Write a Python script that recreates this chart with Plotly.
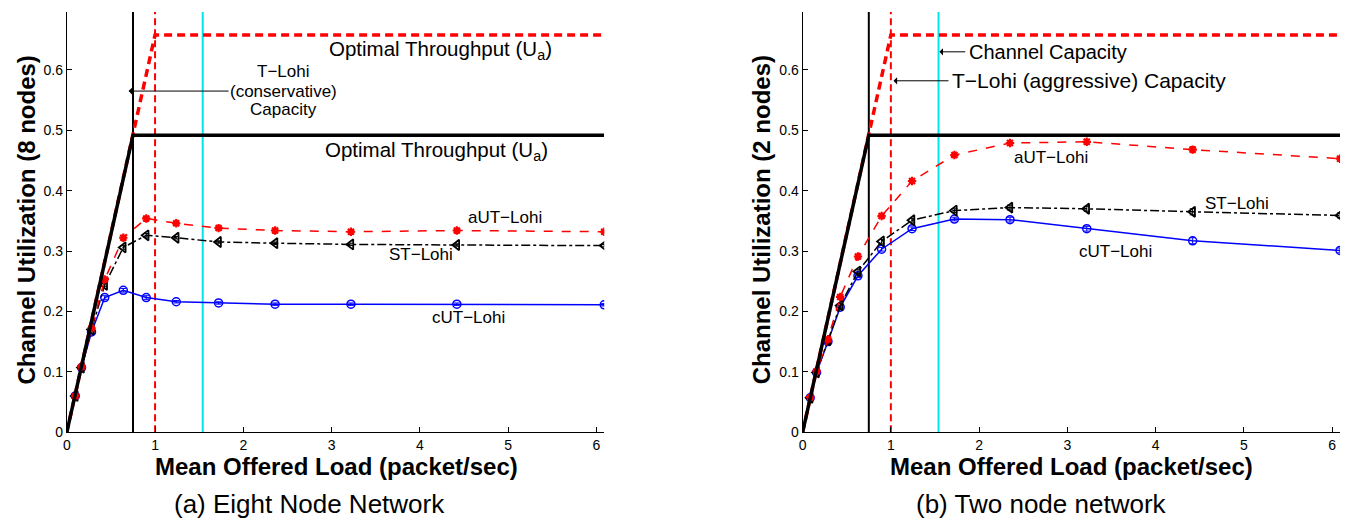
import plotly.graph_objects as go

# ---------------- data ----------------
load_8 = [0.096, 0.167, 0.28, 0.43, 0.64, 0.90, 1.24, 1.72, 2.36, 3.22, 4.42, 6.09]
cut_8 = [0.060, 0.107, 0.166, 0.223, 0.235, 0.223, 0.216, 0.214, 0.212, 0.212, 0.212, 0.211]
aut_8 = [0.060, 0.108, 0.172, 0.253, 0.322, 0.354, 0.346, 0.338, 0.334, 0.332, 0.334, 0.332]
st_8 = [0.060, 0.107, 0.170, 0.244, 0.306, 0.326, 0.322, 0.315, 0.313, 0.311, 0.310, 0.309]
err_8 = [0.002, 0.002, 0.003, 0.003, 0.003, 0.003, 0.002, 0.002, 0.002, 0.002, 0.002, 0.002]

load_2 = [0.086, 0.158, 0.287, 0.426, 0.627, 0.895, 1.24, 1.72, 2.35, 3.22, 4.42, 6.09]
cut_2 = [0.057, 0.099, 0.150, 0.207, 0.259, 0.303, 0.337, 0.353, 0.352, 0.337, 0.317, 0.301]
aut_2 = [0.058, 0.101, 0.154, 0.224, 0.291, 0.358, 0.416, 0.459, 0.479, 0.481, 0.468, 0.453]
st_2 = [0.057, 0.099, 0.152, 0.210, 0.266, 0.316, 0.351, 0.367, 0.372, 0.370, 0.365, 0.359]
err_2 = [0.002, 0.002, 0.003, 0.003, 0.003, 0.003, 0.003, 0.003, 0.004, 0.004, 0.005, 0.004]

# capacity / optimal-throughput envelopes
opt_cons_x = [0, 0.75, 6.09]
opt_cons_y = [0, 0.492, 0.492]
opt_aggr_x = [0, 1.0, 6.09]
opt_aggr_y = [0, 0.658, 0.658]
cap_cons = 0.75      # T-Lohi conservative capacity
cap_aggr = 1.0       # T-Lohi aggressive capacity
cap_channel = 1.54   # channel capacity

x_ticks = [0, 1, 2, 3, 4, 5, 6]
y_ticks = [0, 0.1, 0.2, 0.3, 0.4, 0.5, 0.6]
x_max = 6.09
y_max = 0.696

FONT = "Liberation Sans, Arial, Helvetica, sans-serif"
W, H = 1350, 519
KY = 519 / 512  # vertical correction


def px_y(p):
    """paper fraction from a pixel row measured from the top"""
    return 1 - (p * KY) / H


fig = go.Figure()


def add_panel(xr, yr, load, cut, aut, st, err):
    fig.add_trace(go.Scatter(x=[cap_cons, cap_cons], y=[0, y_max], mode="lines",
                             line=dict(color="black", width=2), xaxis=xr, yaxis=yr, showlegend=False))
    fig.add_trace(go.Scatter(x=[cap_aggr, cap_aggr], y=[0, y_max], mode="lines",
                             line=dict(color="#ff0000", width=2, dash="7px,4px"), xaxis=xr, yaxis=yr, showlegend=False))
    fig.add_trace(go.Scatter(x=[cap_channel, cap_channel], y=[0, y_max], mode="lines",
                             line=dict(color="#00e5ee", width=2), xaxis=xr, yaxis=yr, showlegend=False))
    fig.add_trace(go.Scatter(x=load, y=cut, mode="lines+markers",
                             line=dict(color="#0000ff", width=1.5),
                             marker=dict(symbol="circle-open", size=8, color="#0000ff", line=dict(width=1.5)),
                             error_y=dict(type="data", array=err, color="#0000ff", thickness=1, width=3),
                             xaxis=xr, yaxis=yr, showlegend=False))
    fig.add_trace(go.Scatter(x=load, y=st, mode="lines+markers",
                             line=dict(color="black", width=1.5, dash="dashdot"),
                             marker=dict(symbol="triangle-left-open", size=9, color="black", line=dict(width=1.8)),
                             error_y=dict(type="data", array=err, color="black", thickness=1, width=3),
                             xaxis=xr, yaxis=yr, showlegend=False))
    fig.add_trace(go.Scatter(x=load, y=aut, mode="lines+markers",
                             line=dict(color="#ff0000", width=1.5, dash="dash"),
                             marker=dict(symbol="asterisk-open", size=7, color="#ff0000", line=dict(width=2.2, color="#ff0000")),
                             error_y=dict(type="data", array=err, color="#ff0000", thickness=1, width=3),
                             xaxis=xr, yaxis=yr, showlegend=False))
    fig.add_trace(go.Scatter(x=opt_aggr_x, y=opt_aggr_y, mode="lines",
                             line=dict(color="#ff0000", width=3.5, dash="8px,5px"), xaxis=xr, yaxis=yr, showlegend=False))
    fig.add_trace(go.Scatter(x=opt_cons_x, y=opt_cons_y, mode="lines",
                             line=dict(color="black", width=3.5), xaxis=xr, yaxis=yr, showlegend=False))


add_panel("x", "y", load_8, cut_8, aut_8, st_8, err_8)
add_panel("x2", "y2", load_2, cut_2, aut_2, st_2, err_2)

axis_common = dict(showline=True, linecolor="black", linewidth=1, mirror=False, showgrid=False,
                   zeroline=False, ticks="inside", ticklen=5, tickcolor="black",
                   tickfont=dict(family=FONT, size=14, color="black"))

ydom = [px_y(433), px_y(12)]
fig.update_layout(
    width=W, height=H, margin=dict(l=0, r=0, t=0, b=0),
    paper_bgcolor="white", plot_bgcolor="white", showlegend=False,
    xaxis=dict(domain=[63 / W, 602 / W], range=[0, x_max], tickvals=x_ticks, anchor="y", **axis_common),
    yaxis=dict(domain=ydom, range=[0, y_max], tickvals=y_ticks, anchor="x", **axis_common),
    xaxis2=dict(domain=[801 / W, 1340 / W], range=[0, x_max], tickvals=x_ticks, anchor="y2", **axis_common),
    yaxis2=dict(domain=ydom, range=[0, y_max], tickvals=y_ticks, anchor="x2", **axis_common),
)

ann = []


def F(size, bold=False):
    d = dict(family=FONT, size=size, color="black")
    if bold:
        d["weight"] = "bold"
    return d


def txt(xref, yref, x, y, text, font, xanchor="center", yanchor="middle"):
    ann.append(dict(xref=xref, yref=yref, x=x, y=y, text=text, showarrow=False,
                    font=font, xanchor=xanchor, yanchor=yanchor))


def arrow(xref, yref, x0, x1, y):
    ann.append(dict(xref=xref, yref=yref, x=x1, y=y, ax=x0, ay=y, axref=xref, ayref=yref,
                    text="", showarrow=True, arrowhead=1, arrowsize=1.2, arrowwidth=1, arrowcolor="black"))


# left panel
txt("x", "y", 4.23, 0.633, "Optimal Throughput (U<sub>a</sub>)", F(20.5))
txt("x", "y", 4.19, 0.466, "Optimal Throughput (U<sub>a</sub>)", F(20.5))
txt("x", "y", 2.45, 0.597, "T−Lohi", F(17))
txt("x", "y", 2.45, 0.565, "(conservative)", F(17))
txt("x", "y", 2.45, 0.534, "Capacity", F(17))
arrow("x", "y", 1.85, 0.70, 0.565)
txt("x", "y", 4.97, 0.355, "aUT−Lohi", F(17))
txt("x", "y", 4.01, 0.294, "ST−Lohi", F(17))
txt("x", "y", 4.55, 0.190, "cUT−Lohi", F(17))

# right panel
txt("x2", "y2", 1.86, 0.630, "Channel Capacity", F(20), xanchor="left")
arrow("x2", "y2", 1.86, 1.55, 0.630)
txt("x2", "y2", 1.67, 0.582, "T−Lohi (aggressive) Capacity", F(21), xanchor="left")
arrow("x2", "y2", 1.67, 1.03, 0.582)
txt("x2", "y2", 2.81, 0.455, "aUT−Lohi", F(17))
txt("x2", "y2", 4.92, 0.379, "ST−Lohi", F(17))
txt("x2", "y2", 3.55, 0.299, "cUT−Lohi", F(17))

# axis titles and captions
txt("paper", "paper", 333 / W, px_y(467), "<b>Mean Offered Load (packet/sec)</b>", F(24, True))
txt("paper", "paper", 1071 / W, px_y(467), "<b>Mean Offered Load (packet/sec)</b>", F(24, True))
txt("paper", "paper", 306 / W, px_y(505), "(a) Eight Node Network", F(26))
txt("paper", "paper", 1041 / W, px_y(505), "(b) Two node network", F(26))
for xpx, t in [(23, "Channel Utilization (8 nodes)"), (760, "Channel Utilization (2 nodes)")]:
    ann.append(dict(xref="paper", yref="paper", x=xpx / W, y=px_y(220), text="<b>" + t + "</b>",
                    showarrow=False, textangle=-90, font=F(24, True), xanchor="center", yanchor="middle"))

fig.update_layout(annotations=ann)
fig.write_html("out.html")
